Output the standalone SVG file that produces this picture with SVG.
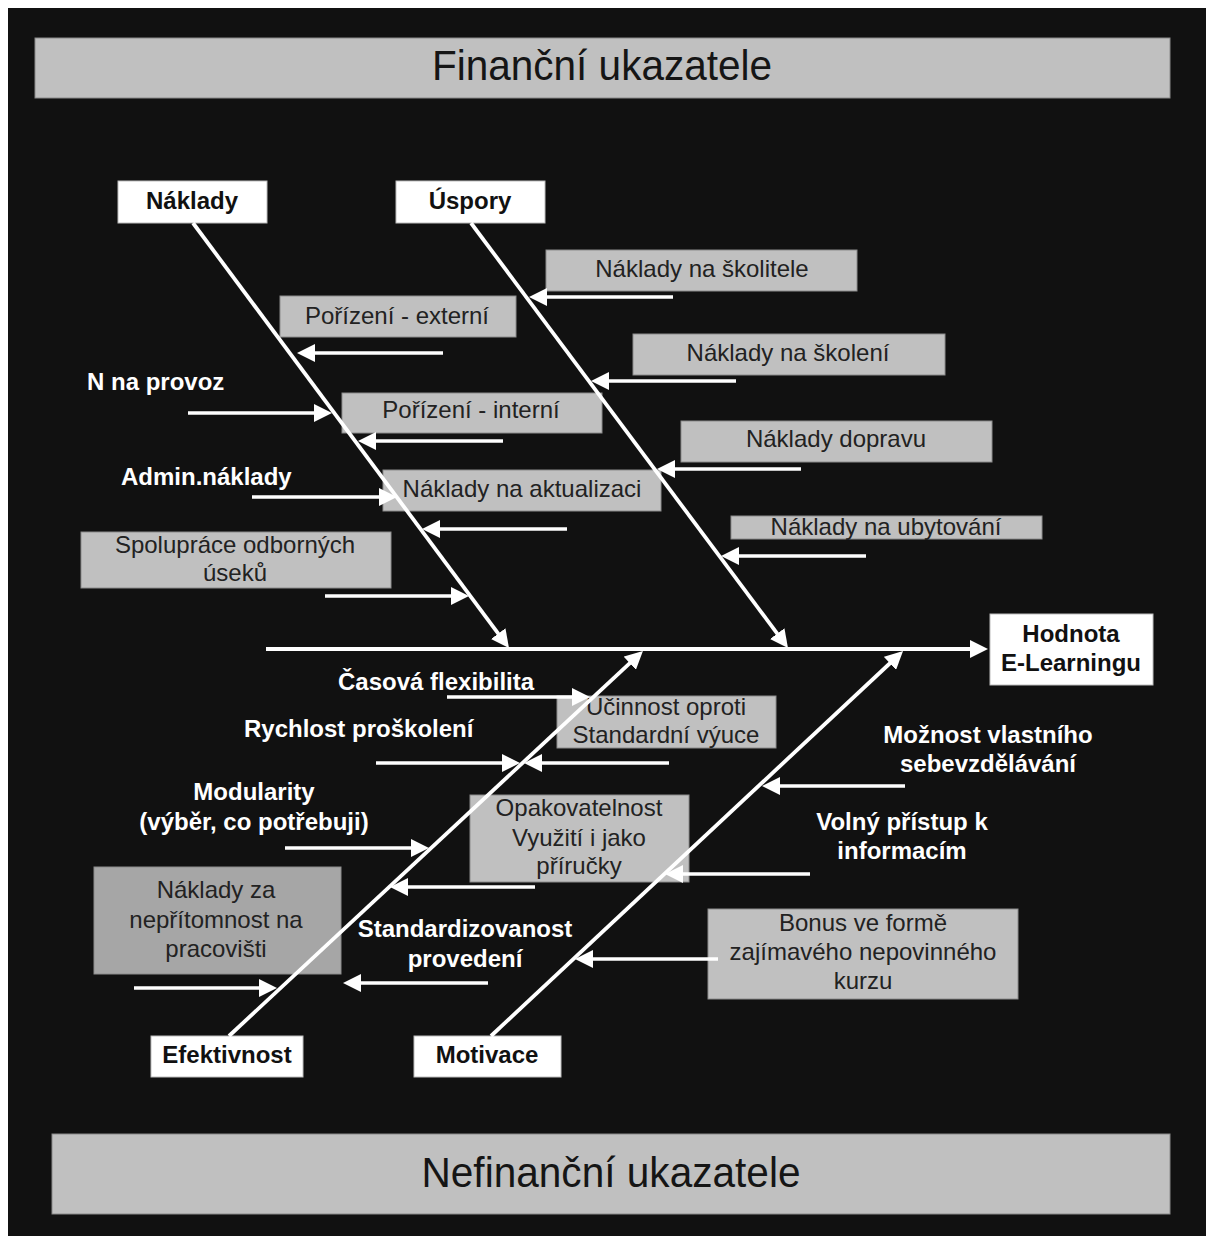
<svg xmlns="http://www.w3.org/2000/svg" width="1206" height="1236" viewBox="0 0 1206 1236">
<defs>
<style>
.bg{fill:#111111}
.banner{fill:#c0c0c0;stroke:#8a8a8a;stroke-width:1}
.btxt{font-family:"Liberation Sans",Arial,sans-serif;font-size:42px;fill:#151515;text-anchor:middle}
.wbox{fill:#ffffff;stroke:#bdbdbd;stroke-width:1}
.gbox{fill:#c0c0c0;stroke:#8c8c8c;stroke-width:1}
.dbox{fill:#a6a6a6;stroke:#8c8c8c;stroke-width:1}
.ntxt{font-family:"Liberation Sans",Arial,sans-serif;font-size:24px;font-weight:bold;fill:#111;text-anchor:middle}
.gtxt{font-family:"Liberation Sans",Arial,sans-serif;font-size:24px;fill:#222;text-anchor:middle}
.wtxt{font-family:"Liberation Sans",Arial,sans-serif;font-size:24px;font-weight:bold;fill:#ffffff}
.mid{text-anchor:middle}
.ln{stroke:#ffffff;stroke-width:3.5;fill:none;marker-end:url(#ah)}
.bone{stroke:#ffffff;stroke-width:3.8;fill:none;marker-end:url(#ah)}
</style>
<marker id="ah" markerUnits="userSpaceOnUse" markerWidth="18" markerHeight="18" refX="10" refY="9" orient="auto">
<path d="M0,0 L18,9 L0,18 Z" fill="#ffffff"/>
</marker>
</defs>
<rect x="0" y="0" width="1206" height="1236" fill="#ffffff"/>
<rect class="bg" x="8" y="8" width="1198" height="1228"/>

<g id="banner-top">
<rect class="banner" x="35" y="38" width="1135" height="60"/>
<text class="btxt" x="602" y="80" textLength="340" lengthAdjust="spacingAndGlyphs">Finanční ukazatele</text>
</g>
<g id="banner-bottom">
<rect class="banner" x="52" y="1134" width="1118" height="80"/>
<text class="btxt" x="611" y="1187" textLength="379" lengthAdjust="spacingAndGlyphs">Nefinanční ukazatele</text>
</g>

<g id="naklady">
<rect class="wbox" x="118" y="181" width="149" height="42"/>
<text class="ntxt" x="192" y="209">Náklady</text>
</g>
<g id="uspory">
<rect class="wbox" x="396" y="181" width="149" height="42"/>
<text class="ntxt" x="470" y="209">Úspory</text>
</g>
<g id="hodnota">
<rect class="wbox" x="990" y="614" width="163" height="71"/>
<text class="ntxt" x="1071" y="642">Hodnota</text>
<text class="ntxt" x="1071" y="671">E-Learningu</text>
</g>
<g id="efektivnost">
<rect class="wbox" x="151" y="1036" width="152" height="41"/>
<text class="ntxt" x="227" y="1063">Efektivnost</text>
</g>
<g id="motivace">
<rect class="wbox" x="414" y="1036" width="147" height="41"/>
<text class="ntxt" x="487" y="1063">Motivace</text>
</g>

<g id="n-skolitele">
<rect class="gbox" x="546" y="250" width="311" height="41"/>
<text class="gtxt" x="702" y="277">Náklady na školitele</text>
</g>
<g id="n-porizeni-externi">
<rect class="gbox" x="280" y="296" width="236" height="41"/>
<text class="gtxt" x="397" y="324">Pořízení - externí</text>
</g>
<g id="n-skoleni">
<rect class="gbox" x="633" y="334" width="312" height="41"/>
<text class="gtxt" x="788" y="361">Náklady na školení</text>
</g>
<g id="n-porizeni-interni">
<rect class="gbox" x="342" y="393" width="260" height="40"/>
<text class="gtxt" x="471" y="418">Pořízení - interní</text>
</g>
<g id="n-dopravu">
<rect class="gbox" x="681" y="421" width="311" height="41"/>
<text class="gtxt" x="836" y="447">Náklady dopravu</text>
</g>
<g id="n-aktualizaci">
<rect class="gbox" x="383" y="470" width="278" height="41"/>
<text class="gtxt" x="522" y="497">Náklady na aktualizaci</text>
</g>
<g id="n-ubytovani">
<rect class="gbox" x="731" y="516" width="311" height="23"/>
<text class="gtxt" x="886" y="535">Náklady na ubytování</text>
</g>
<g id="n-spoluprace">
<rect class="gbox" x="81" y="532" width="310" height="56"/>
<text class="gtxt" x="235" y="553">Spolupráce odborných</text>
<text class="gtxt" x="235" y="581">úseků</text>
</g>
<g id="n-ucinnost">
<rect class="gbox" x="557" y="696" width="219" height="52"/>
<text class="gtxt" x="666" y="715">Účinnost oproti</text>
<text class="gtxt" x="666" y="743">Standardní výuce</text>
</g>
<g id="n-opakovatelnost">
<rect class="gbox" x="470" y="795" width="219" height="87"/>
<text class="gtxt" x="579" y="816">Opakovatelnost</text>
<text class="gtxt" x="579" y="846">Využití i jako</text>
<text class="gtxt" x="579" y="874">příručky</text>
</g>
<g id="n-nepritomnost">
<rect class="dbox" x="94" y="867" width="247" height="107"/>
<text class="gtxt" x="216" y="898">Náklady za</text>
<text class="gtxt" x="216" y="928">nepřítomnost na</text>
<text class="gtxt" x="216" y="957">pracovišti</text>
</g>
<g id="n-bonus">
<rect class="gbox" x="708" y="909" width="310" height="90"/>
<text class="gtxt" x="863" y="931">Bonus ve formě</text>
<text class="gtxt" x="863" y="960">zajímavého nepovinného</text>
<text class="gtxt" x="863" y="989">kurzu</text>
</g>

<g id="n-provoz">
<text class="wtxt" x="87" y="390">N na provoz</text>
</g>
<g id="n-admin">
<text class="wtxt" x="121" y="485">Admin.náklady</text>
</g>
<g id="n-casova">
<text class="wtxt" x="338" y="690">Časová flexibilita</text>
</g>
<g id="n-rychlost">
<text class="wtxt" x="244" y="737">Rychlost proškolení</text>
</g>
<g id="n-modularity">
<text class="wtxt mid" x="254" y="800">Modularity</text>
<text class="wtxt mid" x="254" y="830">(výběr, co potřebuji)</text>
</g>
<g id="n-standardizovanost">
<text class="wtxt mid" x="465" y="937">Standardizovanost</text>
<text class="wtxt mid" x="465" y="967">provedení</text>
</g>
<g id="n-moznost">
<text class="wtxt mid" x="988" y="743">Možnost vlastního</text>
<text class="wtxt mid" x="988" y="772">sebevzdělávání</text>
</g>
<g id="n-volny">
<text class="wtxt mid" x="902" y="830">Volný přístup k</text>
<text class="wtxt mid" x="902" y="859">informacím</text>
</g>

<g id="connectors">
<path class="bone" d="M266,649 L980,649"/>
<path class="bone" d="M193,223 L504.2,641.6"/>
<path class="bone" d="M471,223 L783.2,641.6"/>
<path class="bone" d="M229,1036 L637.1,656.4"/>
<path class="bone" d="M491,1036 L897.2,656.5"/>
<path class="ln" d="M673,297 L537,297"/>
<path class="ln" d="M443,353 L305,353"/>
<path class="ln" d="M736,381 L599,381"/>
<path class="ln" d="M188,413 L324,413"/>
<path class="ln" d="M503,441 L366,441"/>
<path class="ln" d="M801,469 L665,469"/>
<path class="ln" d="M252,497 L389,497"/>
<path class="ln" d="M567,529 L430,529"/>
<path class="ln" d="M866,556 L729,556"/>
<path class="ln" d="M325,596 L461,596"/>
<path class="ln" d="M447,697 L582,697"/>
<path class="ln" d="M376,763 L512,763"/>
<path class="ln" d="M669,763 L532,763"/>
<path class="ln" d="M905,786 L770,786"/>
<path class="ln" d="M285,848 L421,848"/>
<path class="ln" d="M810,874 L673,874"/>
<path class="ln" d="M535,887 L398,887"/>
<path class="ln" d="M718,959 L583,959"/>
<path class="ln" d="M488,983 L351,983"/>
<path class="ln" d="M134,988 L269,988"/>
</g>
</svg>
